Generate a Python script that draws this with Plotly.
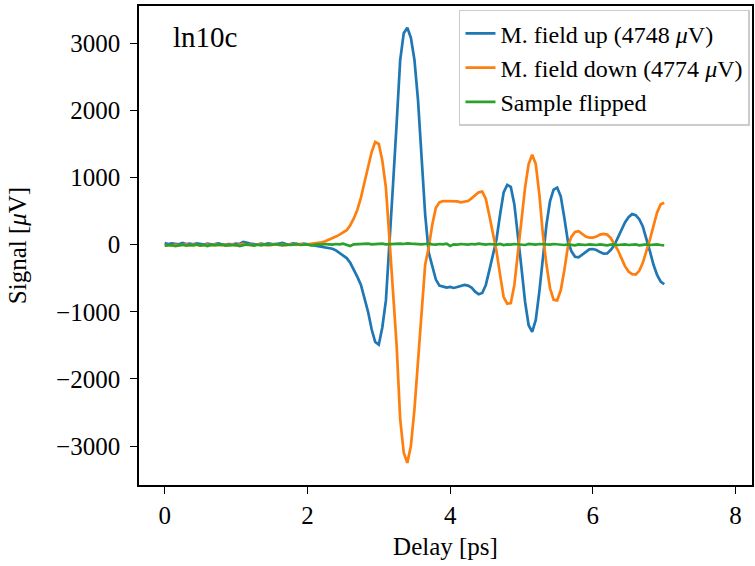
import numpy as np
import plotly.graph_objects as go

# Delay grid [ps]
delay = np.round(np.arange(0, 7.0001, 0.05), 2)

field_up = [
    25, 10, 20, 15, 5, 25, 10, 15, 5, 20,
    10, 0, 15, 5, 10, 20, 5, 0, 10, 5,
    15, 10, 40, 25, 15, 10, 0, 15, 5, 20,
    10, 0, 15, 25, 10, 5, 20, 10, 0, 15,
    5, -5, -10,
    -20, -30, -40, -45, -60, -85, -120, -160, -200, -270, -370, -480, -600, -780, -1000, -1260, -1450,
    -1490, -1230, -830, -20, 900, 1800, 2750, 3150, 3230, 3080, 2750, 2150, 1300, 450, -120, -340, -520, -610, -630, -640,
    -630, -645, -630, -610, -600, -610, -640, -700, -740, -720, -600, -380, -150, 80, 450, 780, 890, 860, 600, 150,
    -350, -850, -1200, -1300, -1120, -700, -150, 300, 650, 820, 850, 720, 400, 50, -100, -180, -190, -150, -110, -70,
    -65, -80, -110, -135, -130, -80, -10, 100, 230, 330, 410, 455, 440, 380, 270, 100, -100, -300, -450, -550,
    -590,
]

field_down = [
    -10, -5, -15, 0, -10, -5, 5, -10, 0, -5,
    -15, -5, 0, -10, 5, -5, -10, 0, -5, 5,
    -10, 0, 10, -5, 0, -10, 5, 0, -5, -10,
    0, 5, -5, 0, -10, 5, 0, -5, 10, 0,
    5, 10, 15,
    20, 35, 50, 70, 100, 120, 150, 180, 215, 290, 390, 520, 700, 930, 1150, 1380, 1530,
    1500, 1250, 850, 80, -650, -1500, -2600, -3100, -3250, -3000, -2450, -1750, -950, -300, -40, 300, 550, 630, 650, 650,
    655, 650, 645, 630, 640, 650, 690, 740, 780, 790, 680, 430, 150, -100, -450, -780, -880, -870, -600, -120,
    350, 850, 1200, 1340, 1200, 750, 150, -300, -650, -820, -830, -680, -380, -30, 120, 190, 200, 160, 120, 105,
    105, 120, 150, 160, 150, 100, 20, -80, -200, -320, -400, -440, -445, -390, -270, -100, 80, 280, 480, 600,
    625,
]

sample_flipped = [
    -15, -10, -5, -20, -10, 0, -15, -5, -10, 5,
    -15, -5, -20, 0, -10, -5, 5, -15, -10, 0,
    -5, -20, -10, 5, -5, -15, 0, -10, 5, 0,
    -5, 10, 0, -10, 5, -5, 0, 10, -5, 0,
    5, -10, 0,
    5, 0, 10, 5, 0, 10, 5, 15, 0, -20, 5, 10, 5, 10, 15, 5, 10,
    10, 15, 5, 10, 15, 20, 15, 10, 20, 15, 10, 15, 5, 10, 15, 5, 0, 10, 5, 15,
    -20, 5, 0, 10, 5, 0, 10, 5, 15, 5, 0, 10, 5, 0, 10, -5, 5, 0, 10, 5,
    0, -5, 10, 5, 0, 10, 5, -5, 0, 10, 5, 0, -5, 5, 0, -10, 5, 0, -5, 5,
    0, -5, 5, 0, -10, 0, 5, -5, 0, 5, -5, 0, 5, -10, 0, 5, -5, 0, 5, -5,
    -10,
]

names = ["M. field up (4748 <i>μ</i>V)", "M. field down (4774 <i>μ</i>V)", "Sample flipped"]
colors = ["#1f77b4", "#ff7f0e", "#2ca02c"]
label = "ln10c"

FONT = "Liberation Serif, DejaVu Serif, serif"

fig = go.Figure()
for ys, nm, c in zip([field_up, field_down, sample_flipped], names, colors):
    fig.add_trace(go.Scatter(x=delay, y=ys, mode="lines", name=nm,
                             line=dict(color=c, width=2.7)))

axis_common = dict(showline=True, linecolor="black", linewidth=1.6, mirror=True,
                   ticks="outside", ticklen=7, tickwidth=1.4, tickcolor="black",
                   showgrid=False, zeroline=False, automargin=False,
                   tickfont=dict(family=FONT, size=25, color="black"))

fig.update_xaxes(range=[-0.36, 8.23], tickvals=[0, 2, 4, 6, 8],
                 title=dict(text="Delay [ps]", font=dict(family=FONT, size=25, color="black"), standoff=10),
                 **axis_common)
fig.update_yaxes(range=[-3580, 3555], tickvals=[-3000, -2000, -1000, 0, 1000, 2000, 3000],
                 ticklabelstandoff=5,
                 title=dict(text="Signal [<i>μ</i>V]", font=dict(family=FONT, size=25, color="black"), standoff=22),
                 **axis_common)

fig.add_annotation(text=label, xref="paper", yref="paper", x=0.052, y=0.935,
                   xanchor="left", yanchor="middle", showarrow=False,
                   font=dict(family=FONT, size=29, color="black"))

fig.update_layout(
    width=755, height=566,
    margin=dict(l=139, r=3, t=6, b=81, autoexpand=False),
    plot_bgcolor="white", paper_bgcolor="white",
    font=dict(family=FONT, color="black"),
    legend=dict(x=0.9967, y=0.992, xanchor="right", yanchor="top",
                bgcolor="rgba(255,255,255,0.8)", bordercolor="#cccccc", borderwidth=1.5,
                font=dict(family=FONT, size=24, color="black"), tracegroupgap=0),
    showlegend=True,
)

fig.write_html("out.html", config={"displayModeBar": False},
               post_script="document.body.style.margin='0';")
